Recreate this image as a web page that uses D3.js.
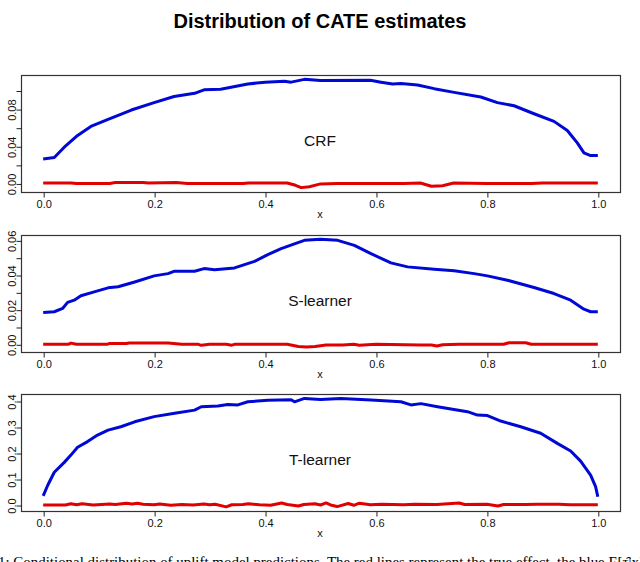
<!DOCTYPE html>
<html>
<head>
<meta charset="utf-8">
<script src="https://cdn.jsdelivr.net/npm/d3@7"></script>
<style>
  body { margin: 0; background: #fff; }
  svg { display: block; }
</style>
</head>
<body>
<div id="chart"></div>
<script>
// Values, as [x, value] pairs
const crfBlue = [[0, 0.0264], [0.02, 0.0279], [0.038, 0.039], [0.06, 0.0507], [0.086, 0.0614],
  [0.117, 0.069], [0.159, 0.079], [0.2, 0.087], [0.236, 0.0936], [0.273, 0.097], [0.29, 0.1007],
  [0.32, 0.1014], [0.369, 0.107], [0.4, 0.109], [0.435, 0.11], [0.447, 0.109], [0.471, 0.112],
  [0.5, 0.1108], [0.59, 0.111], [0.609, 0.109], [0.63, 0.107], [0.645, 0.1075], [0.675, 0.106],
  [0.705, 0.102], [0.741, 0.098], [0.789, 0.093], [0.819, 0.087], [0.849, 0.0836], [0.885, 0.075],
  [0.921, 0.0668], [0.945, 0.057], [0.963, 0.0436], [0.975, 0.0329], [0.987, 0.030], [1.0, 0.030]];

const crfRed = [[0, 0.0005], [0.05, 0.0005], [0.06, 0], [0.12, 0], [0.13, 0.001], [0.18, 0.001],
  [0.19, 0.0006], [0.24, 0.001], [0.26, 0], [0.36, 0], [0.37, 0.0006], [0.44, 0.0005],
  [0.455, -0.002], [0.465, -0.0045], [0.48, -0.0035], [0.5, -0.0005], [0.53, 0], [0.65, 0],
  [0.68, 0.0005], [0.7, -0.003], [0.72, -0.0025], [0.74, 0.0005], [0.8, 0], [0.88, 0],
  [0.9, 0.0006], [1.0, 0.0006]];

const sBlue = [[0, 0.0184], [0.02, 0.0188], [0.035, 0.0207], [0.044, 0.0242], [0.056, 0.0255],
  [0.068, 0.028], [0.092, 0.0303], [0.117, 0.0326], [0.135, 0.0332], [0.165, 0.036], [0.2, 0.0395],
  [0.225, 0.0408], [0.237, 0.0422], [0.273, 0.0422], [0.29, 0.0437], [0.309, 0.0431], [0.345, 0.0441],
  [0.381, 0.0479], [0.405, 0.0518], [0.429, 0.0552], [0.453, 0.058], [0.471, 0.06], [0.5, 0.0606],
  [0.531, 0.06], [0.561, 0.0571], [0.591, 0.0523], [0.627, 0.047], [0.657, 0.0447], [0.705, 0.0433],
  [0.741, 0.0424], [0.777, 0.0408], [0.801, 0.0395], [0.837, 0.037], [0.885, 0.0328], [0.921, 0.0293],
  [0.951, 0.0255], [0.975, 0.0203], [0.987, 0.0188], [1.0, 0.0188]];

const sRed = [[0, 0], [0.045, 0], [0.05, 0.0007], [0.06, 0], [0.115, 0], [0.12, 0.0005],
  [0.15, 0.0005], [0.155, 0.0008], [0.225, 0.0008], [0.25, 0], [0.28, 0], [0.285, -0.0006],
  [0.3, 0], [0.33, 0], [0.34, -0.0005], [0.345, 0], [0.44, 0], [0.46, -0.0013], [0.475, -0.0016],
  [0.49, -0.0012], [0.51, -0.0004], [0.54, -0.0004], [0.56, 0], [0.57, -0.0005], [0.6, 0],
  [0.68, -0.0004], [0.7, -0.0004], [0.71, -0.001], [0.72, -0.0003], [0.75, 0], [0.83, 0],
  [0.84, 0.0009], [0.87, 0.0009], [0.88, 0], [1.0, 0]];

const tBlue = [[0, 0.035], [0.0084, 0.077], [0.02, 0.126], [0.038, 0.164], [0.05, 0.192],
  [0.062, 0.222], [0.08, 0.244], [0.098, 0.269], [0.117, 0.288], [0.14, 0.301], [0.165, 0.32],
  [0.2, 0.34], [0.237, 0.353], [0.273, 0.365], [0.285, 0.378], [0.315, 0.381], [0.333, 0.387],
  [0.351, 0.385], [0.369, 0.397], [0.405, 0.403], [0.447, 0.405], [0.453, 0.397], [0.471, 0.41],
  [0.5, 0.406], [0.537, 0.41], [0.591, 0.404], [0.645, 0.397], [0.663, 0.385], [0.681, 0.39],
  [0.711, 0.378], [0.765, 0.359], [0.783, 0.346], [0.801, 0.344], [0.825, 0.323], [0.861, 0.301],
  [0.897, 0.276], [0.927, 0.237], [0.951, 0.208], [0.969, 0.169], [0.987, 0.115], [0.996, 0.0705],
  [1.0, 0.032]];

const tRed = [[0, 0], [0.04, 0], [0.05, 0.005], [0.06, 0.001], [0.07, 0.005], [0.09, 0],
  [0.12, 0.004], [0.13, 0.002], [0.15, 0.007], [0.16, 0.004], [0.17, 0.007], [0.18, 0.003],
  [0.2, 0.001], [0.21, 0.004], [0.23, -0.001], [0.25, 0.002], [0.27, 0], [0.29, 0.004],
  [0.3, 0.001], [0.31, 0.003], [0.33, -0.007], [0.34, 0.001], [0.36, 0.002], [0.37, 0.005],
  [0.39, 0.001], [0.41, -0.001], [0.43, 0.008], [0.44, 0.002], [0.46, -0.004], [0.47, 0.002],
  [0.49, 0.005], [0.5, 0], [0.51, 0.008], [0.52, -0.001], [0.53, -0.006], [0.55, 0.006],
  [0.56, -0.001], [0.57, 0.007], [0.59, 0.001], [0.61, 0.003], [0.65, 0.001], [0.67, 0.003],
  [0.71, 0.002], [0.75, 0.008], [0.76, 0.002], [0.8, 0.003], [0.82, -0.004], [0.83, 0.002],
  [0.87, 0.002], [0.89, 0.003], [0.93, 0.003], [0.95, 0.001], [1.0, 0.001]];

const xTicks = [0, 0.2, 0.4, 0.6, 0.8, 1.0];
const crfTicks = [0, 0.02, 0.04, 0.06, 0.08, 0.10];
const sTicks = [0, 0.01, 0.02, 0.03, 0.04, 0.05, 0.06];
const tTicks = [0, 0.1, 0.2, 0.3, 0.4];

const panelNames = ['CRF', 'S-learner', 'T-learner'];

const width = 640;
const height = 562;

// Layout of the three plot regions
const panels = [
    { name: panelNames[0], blue: crfBlue, red: crfRed, ticks: crfTicks, fmt: d3.format('.2f'),
      every: 2, top: 75, bottom: 192, domain: [-0.0092, 0.1167] },
    { name: panelNames[1], blue: sBlue, red: sRed, ticks: sTicks, fmt: d3.format('.2f'),
      every: 2, top: 235, bottom: 352, domain: [-0.00444, 0.0631] },
    { name: panelNames[2], blue: tBlue, red: tRed, ticks: tTicks, fmt: d3.format('.1f'),
      every: 1, top: 394, bottom: 511, domain: [-0.023, 0.427] }
];

const left = 21;
const right = 620;

const svg = d3.select('#chart')
    .append('svg')
    .attr('width', width)
    .attr('height', height)
    .attr('font-family', '"Liberation Sans", Arial, sans-serif');

svg.append('text')
    .attr('x', 320)
    .attr('y', 28)
    .attr('text-anchor', 'middle')
    .attr('font-size', 20)
    .attr('font-weight', 'bold')
    .text('Distribution of CATE estimates');

// x scale is shared; R pads the data range by 4% on each side
const x = d3.scaleLinear().domain([-0.04, 1.04]).range([left, right]);

panels.forEach((p) => {
    const y = d3.scaleLinear().domain(p.domain).range([p.bottom, p.top]);
    const g = svg.append('g');

    const line = d3.line()
        .x((d) => x(d[0]))
        .y((d) => y(d[1]));

    g.append('path')
        .datum(p.blue)
        .attr('d', line)
        .attr('fill', 'none')
        .attr('stroke', '#0008d4')
        .attr('stroke-width', 3)
        .attr('stroke-linejoin', 'round');

    g.append('path')
        .datum(p.red)
        .attr('d', line)
        .attr('fill', 'none')
        .attr('stroke', '#e00000')
        .attr('stroke-width', 3)
        .attr('stroke-linejoin', 'round');

    // plot box
    g.append('rect')
        .attr('x', left + 0.5)
        .attr('y', p.top + 0.5)
        .attr('width', right - left)
        .attr('height', p.bottom - p.top)
        .attr('fill', 'none')
        .attr('stroke', '#333')
        .attr('stroke-width', 1.2);

    // x axis
    const xAxis = g.append('g')
        .attr('transform', `translate(0.5, ${p.bottom + 0.5})`)
        .call(d3.axisBottom(x).tickValues(xTicks).tickFormat(d3.format('.1f')).tickSize(5).tickPadding(3));
    xAxis.select('.domain').remove();
    xAxis.selectAll('line').attr('stroke', '#222');
    xAxis.selectAll('text')
        .attr('font-size', 11)
        .attr('font-family', '"Liberation Sans", Arial, sans-serif')
        .attr('fill', '#111');

    svg.append('text')
        .attr('x', 320)
        .attr('y', p.bottom + 26)
        .attr('text-anchor', 'middle')
        .attr('font-size', 11)
        .attr('fill', '#111')
        .text('x');

    // y axis, labels parallel to the axis as R draws them
    const yAxis = g.append('g')
        .attr('transform', `translate(${left + 0.5}, 0.5)`)
        .call(d3.axisLeft(y).tickValues(p.ticks)
            .tickFormat((d, i) => (i % p.every === 0 ? p.fmt(d) : ''))
            .tickSize(5));
    yAxis.select('.domain').remove();
    yAxis.selectAll('line').attr('stroke', '#222');
    yAxis.selectAll('text')
        .attr('font-size', 11)
        .attr('font-family', '"Liberation Sans", Arial, sans-serif')
        .attr('fill', '#111')
        .attr('x', null)
        .attr('dy', null)
        .attr('text-anchor', 'middle')
        .attr('transform', 'translate(-5.5, 0) rotate(-90)');

    // panel name in the middle
    g.append('text')
        .attr('x', 320)
        .attr('y', (p.top + p.bottom) / 2 + 12)
        .attr('text-anchor', 'middle')
        .attr('font-size', 15.5)
        .attr('fill', '#111')
        .text(p.name);
});

// caption line of the page, cut off at the bottom edge as in the source figure
svg.append('text')
    .attr('x', -2)
    .attr('y', 567)
    .attr('font-family', '"Liberation Serif", "Times New Roman", serif')
    .attr('font-size', 15)
    .attr('textLength', 646)
    .attr('lengthAdjust', 'spacingAndGlyphs')
    .text('1: Conditional distribution of uplift model predictions. The red lines represent the true effect, the blue E[τ̂|x]');
</script>
</body>
</html>
